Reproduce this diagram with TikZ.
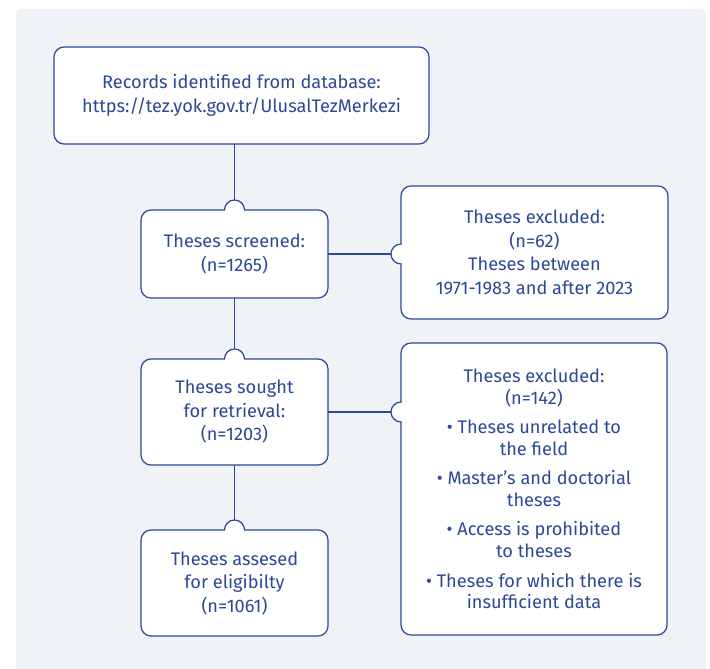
\documentclass[tikz,border=0pt]{standalone}
\usepackage{fontspec}
\setmainfont{Fira Sans}
\usetikzlibrary{calc}
\definecolor{bg}{RGB}{239,242,246}
\definecolor{ink}{RGB}{45,72,150}
\newcommand\mybumpN[1]{%
  \fill[white] ($(#1.north)+(-9.4,-1)$) rectangle ($(#1.north)+(9.4,1)$);
  \draw[conn, fill=white] ($(#1.north)+(-10,0)$) arc[start angle=180,end angle=0,radius=10];}
\newcommand\mybumpW[1]{%
  \fill[white] ($(#1)+(-1,-9.4)$) rectangle ($(#1)+(1,9.4)$);
  \draw[conn, fill=white] ($(#1)+(0,10)$) arc[start angle=90,end angle=270,radius=10];}
\begin{document}
\begin{tikzpicture}[x=1pt,y=1pt,
  box/.style={draw=ink, line width=1.2pt, fill=white, rounded corners=10pt, outer sep=0pt, inner sep=0pt, align=center, text=ink, font=\fontsize{18.2}{23.5}\selectfont},
  conn/.style={draw=ink, line width=1.2pt}]
\useasboundingbox (0,0) rectangle (710,-669);
\fill[bg, rounded corners=5pt] (16,-9) rectangle (706,-690);

\node[box, minimum width=375pt, minimum height=97pt] (b1) at (241.5,-95.5)
  {Records identified from database:\\https://tez.yok.gov.tr/UlusalTezMerkezi};
\node[box, minimum width=187pt, minimum height=88pt] (b2) at (234.5,-254)
  {Theses screened:\\(n=1265)};
\node[box, minimum width=267pt, minimum height=133pt] (b3) at (534.5,-252.5)
  {Theses excluded:\\(n=62)\\Theses between\\1971-1983 and after 2023};
\node[box, minimum width=187pt, minimum height=106pt] (b4) at (234.5,-412)
  {Theses sought\\for retrieval:\\(n=1203)};
\node[box, minimum width=266pt, minimum height=292pt, font=\fontsize{18.2}{21.8}\selectfont] (b5) at (534,-489)
  {Theses excluded:\\(n=142)\\[7.5pt]
   • Theses unrelated to\\the field\\[7.5pt]
   • Master’s and doctorial\\theses\\[7.5pt]
   • Access is prohibited\\to theses\\[7.5pt]
   • Theses for which there is\\insufficient data};
\node[box, minimum width=187pt, minimum height=106pt] (b6) at (234.5,-583)
  {Theses assesed\\for eligibilty\\(n=1061)};

% connectors
\coordinate (p1) at (b2.north |- b1.south);
\draw[conn] (p1) -- ($(b2.north)+(0,10)$);
\mybumpN{b2}
\draw[conn] (b2.south) -- ($(b4.north)+(0,10)$);
\mybumpN{b4}
\draw[conn] (b4.south) -- ($(b6.north)+(0,10)$);
\mybumpN{b6}

\coordinate (w3) at (b2.east -| b3.west);
\draw[conn] (b2.east) -- ($(w3)+(-10,0)$);
\mybumpW{w3}
\coordinate (w5) at (b4.east -| b5.west);
\draw[conn] (b4.east) -- ($(w5)+(-10,0)$);
\mybumpW{w5}
\end{tikzpicture}
\end{document}
